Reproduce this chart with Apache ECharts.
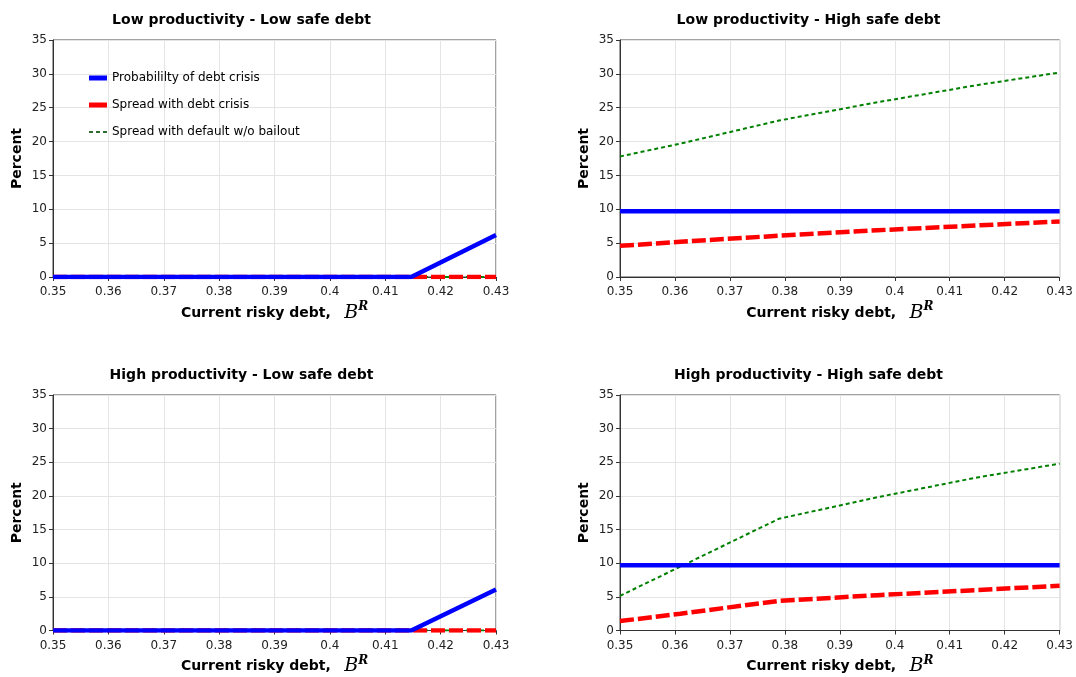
<!DOCTYPE html>
<html><head><meta charset="utf-8">
<script src="https://cdn.jsdelivr.net/npm/echarts@6/dist/echarts.min.js"></script>
<style>html,body{margin:0;padding:0;background:#fff}#c{width:1076px;height:677px}</style>
</head><body><div id="c"></div>
<script>
const xValues = [0.35, 0.361, 0.3789, 0.3968, 0.4147, 0.43];
const xTicks = [0.35, 0.36, 0.37, 0.38, 0.39, 0.4, 0.41, 0.42, 0.43];
const panelTitles = ["Low productivity - Low safe debt", "Low productivity - High safe debt", "High productivity - Low safe debt", "High productivity - High safe debt"];
const seriesNames = ["Probabililty of debt crisis", "Spread with debt crisis", "Spread with default w/o bailout"];
// panel 1: Low productivity - Low safe debt
const p1Prob = [0, 0, 0, 0, 0, 6.2];
const p1Crisis = [0, 0, 0, 0, 0, 0];
const p1NoBailout = [0, 0, 0, 0, 0, 0];
// panel 2: Low productivity - High safe debt
const p2Prob = [9.7, 9.7, 9.7, 9.7, 9.7, 9.7];
const p2Crisis = [4.6, 5.2, 6.1, 6.9, 7.6, 8.2];
const p2NoBailout = [17.8, 19.7, 23.1, 25.8, 28.3, 30.2];
// panel 3: High productivity - Low safe debt
const p3Prob = [0, 0, 0, 0, 0, 6.1];
const p3Crisis = [0, 0, 0, 0, 0, 0];
const p3NoBailout = [0, 0, 0, 0, 0, 0];
// panel 4: High productivity - High safe debt
const p4Prob = [9.7, 9.7, 9.7, 9.7, 9.7, 9.7];
const p4Crisis = [1.4, 2.5, 4.4, 5.25, 6.0, 6.65];
const p4NoBailout = [5.15, 9.5, 16.6, 19.8, 22.7, 24.8];

const panels = [[p1Prob, p1Crisis, p1NoBailout],[p2Prob, p2Crisis, p2NoBailout],[p3Prob, p3Crisis, p3NoBailout],[p4Prob, p4Crisis, p4NoBailout]];
const FONT = '"DejaVu Sans", Verdana, sans-serif';
const grids = [
  {left:53, top:40, width:443, height:237},
  {left:620, top:40, width:443, height:237},
  {left:53, top:395, width:443, height:237},
  {left:620, top:395, width:443, height:237}
];
const xAxes = [], yAxes = [], series = [], graphics = [];
const styles = [
  {color:'#0000ff', width:4.5, type:'solid'},
  {color:'#ff0000', width:4.5, type:[14,4]},
  {color:'#008000', width:2, type:[4,3]}
];
grids.forEach((g,i)=>{
  g.show = true; g.borderColor = '#444'; g.borderWidth = 1; g.containLabel=false;
  xAxes.push({type:'value', gridIndex:i, min:0.35, max:0.43, interval:0.01,
    axisLine:{show:true, onZero:false, lineStyle:{color:'#333'}},
    axisTick:{show:true, length:4, lineStyle:{color:'#333'}},
    axisLabel:{color:'#222', fontSize:12, fontFamily:FONT, margin:9, formatter:v=>String(parseFloat(v.toFixed(2)))},
    splitLine:{show:true, lineStyle:{color:'#e4e4e4'}},
    name:'{a|Current risky debt,}    {b|B}{c|R}', nameLocation:'middle', nameGap:24,
    nameTextStyle:{rich:{
      a:{fontFamily:FONT, fontWeight:'bold', fontSize:14, color:'#000'},
      b:{fontFamily:'"DejaVu Serif", serif', fontStyle:'italic', fontSize:19, color:'#000'},
      c:{fontFamily:'"DejaVu Serif", serif', fontStyle:'italic', fontWeight:'bold', fontSize:12, color:'#000', padding:[0,0,12,0]}
    }}
  });
  yAxes.push({type:'value', gridIndex:i, min:0, max:35, interval:5,
    axisLine:{show:true, lineStyle:{color:'#333'}},
    axisTick:{show:true, length:4, lineStyle:{color:'#333'}},
    axisLabel:{color:'#222', fontSize:12, fontFamily:FONT, margin:6},
    splitLine:{show:true, lineStyle:{color:'#e4e4e4'}},
    name:'Percent', nameLocation:'middle', nameGap:29, nameRotate:90,
    nameTextStyle:{fontFamily:FONT, fontWeight:'bold', fontSize:14, color:'#000'}
  });
  panels[i].forEach((vals,k)=>{
    series.push({type:'line', name:seriesNames[k], xAxisIndex:i, yAxisIndex:i,
      data: xValues.map((x,j)=>[x, vals[j]]), symbol:'none', clip:true,
      lineStyle:styles[k], itemStyle:{color:styles[k].color}, z: 3-k});
  });
  graphics.push({type:'text', x: g.left + g.width/2 - 33, y: g.top - 20,
    style:{text:panelTitles[i], font:'bold 14px '+FONT, fill:'#000', textAlign:'center', textVerticalAlign:'middle'}});
});
const chart = echarts.init(document.getElementById('c'));
chart.setOption({
  animation:false,
  backgroundColor:'#fff',
  grid: grids, xAxis: xAxes, yAxis: yAxes, series: series, graphic: graphics,
  legend:{left:88, top:72, padding:0, orient:'vertical', itemGap:15, itemWidth:18, itemHeight:5,
    textStyle:{fontFamily:FONT, fontSize:12, color:'#000'},
    data:[
      {name:seriesNames[0], icon:'rect', itemStyle:{color:'#0000ff'}},
      {name:seriesNames[1], icon:'rect', itemStyle:{color:'#ff0000'}},
      {name:seriesNames[2], itemStyle:{color:'rgba(0,0,0,0)', borderWidth:0}, lineStyle:{color:'#2e6b2e', width:2, type:[4,3]}}
    ]}
});
</script></body></html>
